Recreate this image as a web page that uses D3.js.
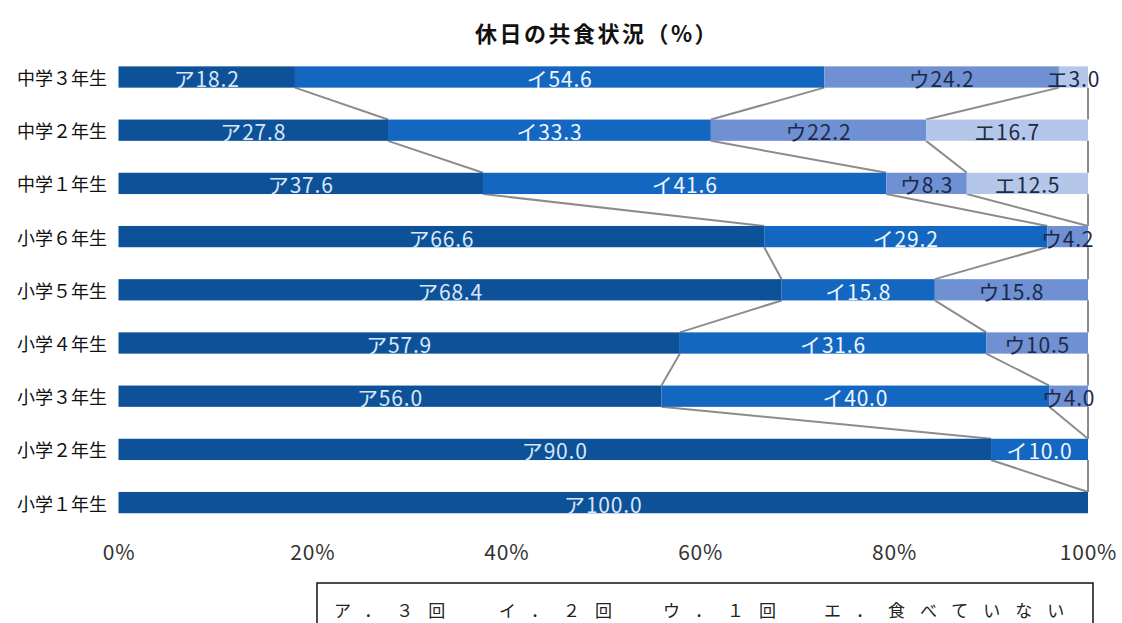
<!DOCTYPE html>
<html><head><meta charset="utf-8">
<script src="https://cdn.jsdelivr.net/npm/d3@7"></script>
<style>
body{margin:0;background:#fff;}
text{font-family:"Noto Sans CJK JP","Noto Sans",sans-serif;}
</style></head>
<body>
<svg id="chart" width="1122" height="623"></svg>
<script>
const categories = ["中学３年生","中学２年生","中学１年生","小学６年生","小学５年生","小学４年生","小学３年生","小学２年生","小学１年生"];
const seriesNames = ["ア","イ","ウ","エ"];
const valA = [18.2,27.8,37.6,66.6,68.4,57.9,56.0,90.0,100.0];
const valI = [54.6,33.3,41.6,29.2,15.8,31.6,40.0,10.0,0];
const valU = [24.2,22.2,8.3,4.2,15.8,10.5,4.0,0,0];
const valE = [3.0,16.7,12.5,0,0,0,0,0,0];
const xTicks = [0,20,40,60,80,100];
const legendItems = ["ア．３回","イ．２回","ウ．１回","エ．食べていない"];
const titleText = "休日の共食状況（%）";

const colors = ["#0d5299","#1467c1","#6f90d3","#b4c7e9"];
const labelColors = ["#d9e7f7","#eef5fc","#1c2a48","#1c2a48"];

const rows = categories.map((c,i)=>({cat:c,"ア":valA[i],"イ":valI[i],"ウ":valU[i],"エ":valE[i]}));
const stacked = d3.stack().keys(seriesNames)(rows);

const svg = d3.select("#chart");
const x = d3.scaleLinear().domain([0,100]).range([118.5,1088]);
const y = d3.scaleBand().domain(categories).range([50.4,529.2]).paddingInner(0.6).paddingOuter(0.3);
const bw = y.bandwidth();

// title
svg.append("text").attr("x",597).attr("y",32).attr("text-anchor","middle")
  .attr("dominant-baseline","central").attr("font-size",22).attr("font-weight","bold")
  .attr("letter-spacing",2.5).attr("fill","#111").text(titleText);

// connector lines
const lines = svg.append("g").attr("stroke","#8c8c8c").attr("stroke-width",2).attr("fill","none");
stacked.forEach(s=>{
  for(let i=0;i<categories.length-1;i++){
    lines.append("line")
      .attr("x1",x(s[i][1])).attr("y1",y(categories[i])+bw)
      .attr("x2",x(s[i+1][1])).attr("y2",y(categories[i+1]));
  }
});

// bars
const g = svg.append("g");
stacked.forEach((s,k)=>{
  g.selectAll(null).data(s.filter(d=>d[1]-d[0]>0)).join("rect")
    .attr("x",d=>x(d[0])).attr("width",d=>x(d[1])-x(d[0]))
    .attr("y",d=>y(d.data.cat)).attr("height",bw)
    .attr("fill",colors[k]);
});
// labels
const fmt = d3.format(".1f");
stacked.forEach((s,k)=>{
  g.selectAll(null).data(s.filter(d=>d[1]-d[0]>0)).join("text")
    .attr("x",d=>x((d[0]+d[1])/2)).attr("y",d=>y(d.data.cat)+bw/2+1)
    .attr("text-anchor","middle").attr("dominant-baseline","central")
    .attr("font-size",21).attr("letter-spacing",0.8)
    .attr("fill",labelColors[k])
    .text(d=>seriesNames[k]+fmt(d[1]-d[0]));
});

// y labels
svg.append("g").selectAll("text").data(categories).join("text")
  .attr("x",107).attr("y",d=>y(d)+bw/2).attr("text-anchor","end")
  .attr("dominant-baseline","central").attr("font-size",18).attr("fill","#111")
  .text(d=>d);

// x axis
const xa = svg.append("g").attr("transform","translate(0,545)")
  .call(d3.axisBottom(x).tickValues(xTicks).tickSize(0).tickFormat(d=>d+"%"));
xa.select(".domain").remove();
xa.selectAll("text").attr("font-size",21).attr("letter-spacing",0.8).attr("fill","#333")
  .attr("font-family","\"Noto Sans CJK JP\",\"Noto Sans\",sans-serif").attr("dy","0.55em");

// legend box
svg.append("rect").attr("x",317).attr("y",583).attr("width",776).attr("height",60)
  .attr("fill","none").attr("stroke","#111").attr("stroke-width",1.5);
const legX = [334,499,663,824];
svg.append("g").selectAll("text").data(legendItems).join("text")
  .attr("x",(d,i)=>legX[i]).attr("y",609).attr("dominant-baseline","central")
  .attr("font-size",17).attr("letter-spacing",15).attr("fill","#222")
  .text(d=>d);
</script>
</body></html>
